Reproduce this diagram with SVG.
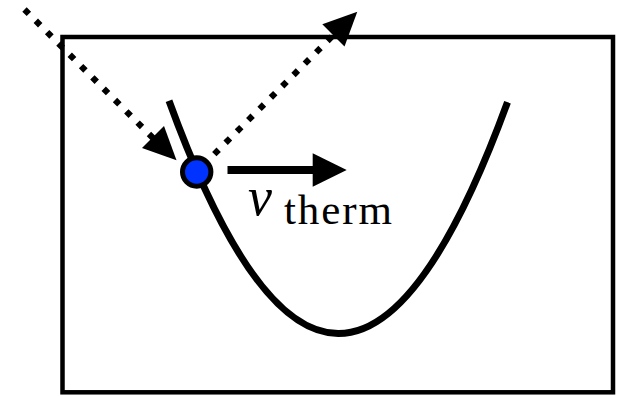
<svg xmlns="http://www.w3.org/2000/svg" width="618" height="396" viewBox="0 0 618 396">
<style>
.box{fill:none;stroke:#000;stroke-width:4.5}
.curve{fill:none;stroke:#000;stroke-width:7;stroke-linecap:butt}
.dot{fill:none;stroke:#000;stroke-width:6.2;stroke-dasharray:6.2 9.8;stroke-linecap:butt}
.solid{fill:none;stroke:#000;stroke-width:8}
.head{fill:#000;stroke:none}
.lbl{font-family:"Liberation Serif","Times New Roman",serif;fill:#000}
</style>
<rect id="box" class="box" x="62.5" y="37" width="550.5" height="355.3"/>
<g id="potential">
<path class="curve" d="M169,100.8 Q338.25,565.6 507.5,102.2"/>
</g>
<g id="connectors">
<line class="dot" x1="24.5" y1="9.5" x2="153" y2="138"/>
<polygon class="head" points="176.5,160.3 142,148 164,126"/>
<line class="dot" x1="214.3" y1="154.1" x2="333" y2="35.5"/>
<polygon class="head" points="357.3,11.7 322.3,24.3 344.5,46.5"/>
<line class="solid" x1="227.5" y1="170" x2="314" y2="170"/>
<polygon class="head" points="312.7,153.3 346.7,170 312.7,186.7"/>
</g>
<g id="particle">
<circle cx="196.7" cy="172" r="14.2" fill="#0033ff" stroke="#000" stroke-width="5"/>
</g>
<g id="label">
<text class="lbl" x="248" y="215" font-size="54" font-style="italic">v</text>
<text class="lbl" x="284" y="223.5" font-size="43" textLength="108" lengthAdjust="spacing">therm</text>
</g>
</svg>
